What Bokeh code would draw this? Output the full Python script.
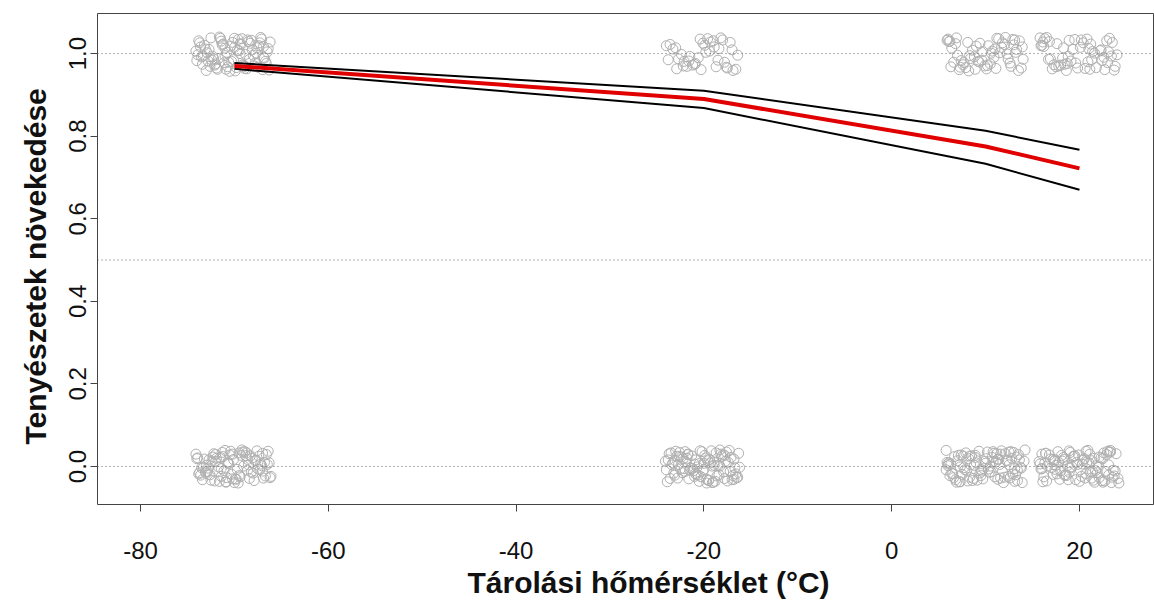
from bokeh.plotting import figure
from bokeh.models import ColumnDataSource, Range1d, FixedTicker, Span, Title
from bokeh.embed import file_html
from bokeh.resources import INLINE

# ---- data ----
x_ticks = [-80, -60, -40, -20, 0, 20]
x_tick_labels = {-80: "-80", -60: "-60", -40: "-40", -20: "-20", 0: "0", 20: "20"}
y_ticks = [0.0, 0.2, 0.4, 0.6, 0.8, 1.0]
y_tick_labels = {0.0: "0.0", 0.2: "0.2", 0.4: "0.4", 0.6: "0.6", 0.8: "0.8", 1.0: "1.0"}
ref_lines = [0.0, 0.5, 1.0]

temps = [-70, -20, 10, 20]
fit = [0.970, 0.890, 0.775, 0.722]
upper = [0.977, 0.910, 0.813, 0.767]
lower = [0.963, 0.868, 0.733, 0.670]

# jittered observations (x = temperature, y = growth 0/1)
c1_x = [-73.8,-72.1,-70.4,-68.9,-66.5,-71.7,-69.2,-67.8,-73.1,-70.9,-68.3,-66.9,-72.6,-69.7,-67.2,-74.0,-71.3,-69.9,-68.0,-66.2,-73.4,-71.0,-70.1,-68.6,-67.5,-72.9,-70.6,-69.4,-67.0,-73.6,-72.3,-71.5,-69.0,-68.1,-66.7,-73.0,-70.2,-68.8,-67.4,-72.0,-74.1,-71.9,-69.6,-68.4,-66.4,-73.3,-70.7,-69.3,-67.7,-72.5,-71.1,-70.0,-68.7,-66.8,-73.7,-72.8,-69.5,-67.9,-71.4,-70.5,
        -73.5,-71.2,-69.8,-67.1,-72.7,-70.3,-68.5,-66.3,-73.9,-71.6,-69.1,-67.6,-72.2,-70.8,-68.2,-66.6,-73.2,-71.8,-69.4,-67.3,-72.4,-70.0,-68.9,-66.9,-71.0]
c1_y = [1.031,0.972,1.018,0.964,1.004,0.988,1.036,0.977,1.011,0.962,1.025,0.991,0.969,1.008,1.039,0.983,1.021,0.958,0.996,1.028,0.974,1.013,0.985,1.033,0.967,1.002,0.979,1.024,0.961,1.016,0.993,1.037,0.971,1.009,0.981,0.959,1.027,0.998,1.019,0.975,1.006,0.965,1.034,0.986,1.012,0.994,0.968,1.022,1.001,1.038,0.978,1.015,0.963,0.989,1.026,0.982,1.007,0.970,1.030,0.957,
        0.992,1.023,0.966,1.035,1.010,0.981,1.029,0.960,0.997,1.040,0.973,1.014,0.987,1.003,1.032,0.976,1.020,0.962,1.000,1.026,0.984,1.037,0.969,1.017,0.995]
c2_x = [-72.4,-70.8,-69.1,-67.3,-73.9,-71.6,-68.5,-66.6,-70.3,-72.7,-69.8,-67.6,-73.5,-71.2,-68.2,-66.3,-70.0,-72.2,-69.5,-67.1,-73.2,-71.8,-68.9,-66.9,-70.6,-73.0,-69.3,-67.9,-72.0,-71.4,-68.7,-66.1,-74.0,-70.9,-69.0,-67.4,-72.9,-71.0,-68.4,-66.8,-73.6,-70.2,-69.7,-67.7,-72.5,-71.5,-68.0,-66.4,-73.3,-70.5,-69.4,-67.2,-72.1,-71.9,-68.6,-67.0,-73.8,-70.7,-69.9,-68.3,-72.8,-71.3,-66.7,-70.1,-73.1,
        -71.1,-68.8,-73.4,-66.5,-70.4,-72.6,-67.8,-69.6,-74.1,-71.7,-68.1,-66.2,-70.7,-73.7,-69.2,-67.5,-72.3,-70.9,-68.6,-71.4,-73.0,-69.5,-67.0,-72.0,-70.2]
c2_y = [0.012,-0.027,0.035,-0.008,0.021,-0.036,0.004,0.029,-0.019,0.016,-0.031,0.038,-0.003,0.024,-0.014,0.009,-0.039,0.031,-0.022,0.002,0.018,-0.011,0.036,-0.028,0.007,-0.017,0.027,-0.034,0.013,-0.005,0.033,-0.024,0.019,-0.038,0.001,0.025,-0.012,0.039,-0.029,0.010,-0.021,0.030,-0.007,0.015,-0.033,0.022,-0.016,0.037,-0.002,0.028,-0.025,0.006,-0.035,0.020,-0.009,0.032,-0.018,0.011,-0.030,0.026,-0.004,0.034,-0.023,0.017,-0.013,
        -0.010,0.026,-0.032,0.005,0.037,-0.020,0.014,-0.040,0.030,-0.001,0.021,-0.027,0.008,-0.015,0.040,-0.006,0.023,-0.037,0.017,-0.024,0.003,0.033,-0.011,0.029,-0.030]
c3_x = [-23.6,-22.1,-20.4,-18.7,-17.0,-21.5,-19.3,-16.6,-23.0,-20.9,-18.2,-22.7,-19.8,-17.5,-24.0,-21.2,-19.0,-16.9,-22.4,-20.1,-18.5,-23.3,-21.8,-19.6,-17.8,-20.6,-18.9,-22.9,-17.2,-21.0,-19.4,-23.8,-20.3,-18.0,-16.4,-22.2,-19.9,-21.6,-18.4,-17.6]
c3_y = [1.022,0.981,1.035,0.968,1.009,0.993,1.028,0.962,1.014,0.976,1.038,0.987,1.003,0.965,1.019,0.972,1.031,0.959,0.998,1.025,0.984,1.011,0.969,1.036,0.979,0.990,1.016,0.963,1.027,0.974,1.006,0.985,0.961,1.033,0.996,0.970,1.020,0.982,1.012,0.967]
c4_x = [-23.7,-22.0,-20.5,-18.8,-17.1,-21.4,-19.2,-16.5,-23.1,-20.8,-18.3,-22.6,-19.7,-17.4,-24.0,-21.3,-19.1,-16.8,-22.3,-20.2,-18.6,-23.4,-21.7,-19.5,-17.7,-20.7,-18.1,-22.8,-17.3,-21.1,-19.4,-23.9,-20.0,-18.4,-16.3,-22.5,-19.8,-21.6,-18.9,-17.6,-23.2,-21.9,-20.3,-18.0,-16.7,-22.2,-19.0,-21.0,-17.9,-23.5,-20.6,-19.6,-17.0,-22.9,-21.5,-18.5,-16.4,-23.0,-20.9,-19.3,-17.5,-22.4,-21.2,-18.2,-16.9,-23.8,-20.1,-19.9,-17.8,-22.7,
        -21.8,-19.5,-23.3,-16.6,-20.4,-22.1,-17.8,-19.7,-24.1,-21.0,-18.7,-16.2,-20.9,-23.6,-18.3,-17.2,-22.6,-20.5,-19.1,-21.7,-23.1,-18.9,-16.8,-22.0,-20.0]
c4_y = [0.031,-0.012,0.007,-0.036,0.022,-0.004,0.038,-0.027,0.015,-0.019,0.001,0.034,-0.031,0.010,-0.008,0.026,-0.039,0.018,-0.015,0.036,-0.023,0.004,0.029,-0.034,0.013,-0.001,0.024,-0.028,0.039,-0.010,0.017,-0.037,0.008,-0.020,0.032,-0.006,0.021,-0.030,0.003,0.035,-0.016,0.011,-0.025,0.028,-0.003,0.019,-0.038,0.006,-0.013,0.033,-0.021,0.014,-0.032,0.025,-0.009,0.002,-0.026,0.037,-0.017,0.009,-0.035,0.023,-0.005,0.030,-0.022,0.016,-0.011,0.027,-0.029,0.005,
        0.020,-0.033,0.009,-0.018,0.038,-0.005,0.027,-0.040,0.013,-0.024,0.033,-0.002,0.016,-0.029,0.040,-0.012,0.024,-0.036,0.001,0.030,-0.021,0.011,-0.031,0.036,-0.007]
c5_x = [6.3,8.1,9.6,11.4,13.2,7.2,10.3,12.6,5.9,8.8,11.0,13.8,6.8,9.2,12.1,7.6,10.7,13.5,6.1,8.4,11.7,9.9,12.9,7.0,10.1,13.0,6.6,8.6,11.2,14.0,7.9,9.4,12.3,6.4,10.5,13.6,8.2,11.5,7.4,9.0,12.7,6.0,10.9,13.3,8.9,11.8,7.7,9.7,12.4,6.9,10.2,13.9,8.3,11.1,6.2,9.3,12.0,7.3,10.6,13.1]
c5_y = [0.968,1.027,0.984,1.036,1.003,0.961,1.019,0.977,1.032,0.992,1.011,0.965,1.024,0.981,1.039,0.973,1.006,0.959,1.029,0.988,1.015,0.970,1.034,0.996,0.963,1.021,0.979,1.008,1.037,0.986,0.966,1.025,0.999,1.013,0.975,1.031,0.958,1.002,0.983,1.018,0.969,1.035,0.991,1.010,0.962,1.026,0.978,1.005,0.987,1.038,0.971,1.016,0.995,0.964,1.030,0.980,1.022,0.967,1.001,1.033]
c6_x = [6.2,7.9,9.5,11.3,13.1,7.1,10.4,12.5,5.8,8.7,11.1,13.7,6.7,9.1,12.2,7.5,10.8,13.4,6.0,8.3,11.6,9.8,12.8,6.9,10.0,13.0,6.5,8.5,11.3,14.1,7.8,9.3,12.4,6.3,10.6,13.5,8.1,11.4,7.3,8.9,12.6,5.9,10.9,13.2,8.8,11.9,7.6,9.6,12.3,6.8,10.2,13.8,8.2,11.0,6.1,9.4,12.1,7.2,10.5,13.3,8.0,11.7,6.6,9.9,12.9,7.4,10.3,13.6,8.6,11.5,
        7.0,9.7,12.7,5.8,10.7,13.9,8.4,11.2,6.4,9.0,12.0,14.2,7.7,10.1,13.4,8.9,11.8,6.0,9.5,12.5,7.3,10.8,13.1,8.3,11.6]
c6_y = [-0.022,0.033,-0.007,0.018,-0.036,0.027,-0.014,0.004,0.039,-0.029,0.011,-0.002,0.024,-0.033,0.015,-0.019,0.036,-0.010,0.002,-0.026,0.030,-0.005,0.020,-0.038,0.008,0.034,-0.017,0.026,-0.031,0.013,-0.008,0.037,-0.024,0.006,-0.013,0.029,-0.035,0.017,-0.001,0.022,-0.028,0.010,0.032,-0.020,0.003,-0.039,0.025,-0.011,0.014,-0.032,0.035,-0.004,0.019,-0.025,0.009,-0.016,0.031,-0.037,0.001,0.023,-0.009,0.038,-0.027,0.012,-0.018,0.028,-0.006,0.016,-0.034,0.005,
        0.014,-0.030,0.036,-0.008,0.022,-0.039,0.004,0.031,-0.017,0.009,-0.026,0.040,-0.003,0.019,-0.034,0.027,-0.012,0.006,-0.022,0.035,-0.037,0.012,-0.005,0.025,-0.028]
c7_x = [16.2,18.0,19.5,21.3,23.1,17.1,20.4,22.6,15.8,18.7,21.0,23.7,16.8,19.1,22.2,17.5,20.8,23.4,16.0,18.4,21.6,19.8,22.9,16.9,20.1,23.0,16.5,18.6,21.2,24.0,17.8,19.3,22.4,16.3,20.6,23.5,18.2,21.4,17.3,18.9,22.7,15.9,20.9,23.2,18.8,21.8,17.6,19.6,22.3,16.7,20.2,23.8,18.3,21.1,16.1]
c7_y = [1.017,0.972,1.034,0.985,1.004,0.963,1.026,0.991,1.038,0.976,1.012,0.960,1.029,0.982,1.007,0.968,1.035,0.994,1.020,0.974,1.001,0.965,1.031,0.987,1.015,0.978,1.039,0.959,1.023,0.997,0.970,1.010,0.983,1.036,0.964,1.027,0.989,1.005,0.973,1.032,0.961,1.019,0.980,1.037,0.993,0.966,1.024,0.977,1.009,0.986,1.033,0.969,1.014,0.962,1.028]
c8_x = [16.3,17.9,19.4,21.2,23.0,17.0,20.5,22.5,15.7,18.6,21.1,23.6,16.6,19.0,22.1,17.4,20.7,23.3,15.9,18.3,21.5,19.7,22.8,16.8,20.0,23.1,16.4,18.5,21.3,24.1,17.7,19.2,22.3,16.2,20.3,23.4,18.1,21.7,17.2,18.8,22.6,16.0,20.8,23.7,18.9,21.9,17.5,19.5,22.4,16.9,20.1,23.9,18.4,21.0,16.1,19.3,22.0,17.3,20.6,23.2,18.0,21.6,16.5,19.8,22.9,17.6,20.4,23.5,18.7,21.4,
        17.2,19.9,22.7,15.8,20.9,23.8,18.4,21.3,16.4,19.0,22.1,24.2,17.8,20.2,23.3,18.9,21.8,16.0,19.6,22.5,17.4,20.7,23.1,18.2,21.6]
c8_y = [0.008,-0.031,0.025,-0.014,0.037,-0.003,0.019,-0.038,0.012,-0.022,0.030,-0.009,0.001,0.034,-0.027,0.016,-0.017,0.039,-0.006,0.022,-0.033,0.010,-0.012,0.028,-0.036,0.004,0.032,-0.020,0.014,-0.029,0.036,-0.001,0.021,-0.025,0.006,-0.039,0.027,-0.010,0.017,-0.032,0.033,-0.005,0.011,-0.023,0.038,-0.015,0.003,0.026,-0.034,0.018,-0.008,0.031,-0.021,0.009,-0.037,0.024,-0.002,0.013,-0.028,0.035,-0.011,0.020,-0.035,0.005,0.029,-0.018,0.015,-0.026,0.002,-0.013,
        -0.019,0.028,-0.035,0.006,0.039,-0.011,0.017,-0.028,0.032,-0.004,0.023,-0.040,0.010,-0.024,0.035,-0.014,0.002,0.030,-0.032,0.019,-0.007,0.037,-0.021,0.013,-0.038]

clusters = [(c1_x, c1_y), (c2_x, c2_y), (c3_x, c3_y), (c4_x, c4_y),
            (c5_x, c5_y), (c6_x, c6_y), (c7_x, c7_y), (c8_x, c8_y)]

x_title = "Tárolási hőmérséklet (°C)"
y_title = "Tenyészetek növekedése"

FONT = "Liberation Sans"

# ---- figure ----
p = figure(width=1154, height=603,
           x_range=Range1d(-84.58, 27.99), y_range=Range1d(-0.092, 1.097),
           output_backend="svg", toolbar_location=None,
           min_border_left=97, min_border_right=0, min_border_top=13, min_border_bottom=99)
p.grid.visible = False
p.outline_line_color = "#444444"
p.outline_line_width = 1
p.background_fill_color = "white"
p.border_fill_color = "white"

for v in ref_lines:
    p.add_layout(Span(location=v, dimension="width", line_color="#666666",
                      line_width=1, line_dash="1 3"))

xs, ys = [], []
for cx, cy in clusters:
    n = min(len(cx), len(cy))
    xs += cx[:n]
    ys += cy[:n]
pts = ColumnDataSource(data=dict(x=xs, y=ys))
p.scatter("x", "y", source=pts, marker="circle", size=10, fill_color=None,
          line_color="#b0b0b0", line_width=1)

p.line(temps, upper, line_color="black", line_width=2)
p.line(temps, lower, line_color="black", line_width=2)
p.line(temps, fit, line_color="#e00000", line_width=4)

for ax in (p.xaxis[0], p.yaxis[0]):
    ax.axis_line_color = None
    ax.major_tick_line_color = "#444444"
    ax.major_tick_out = 7
    ax.major_tick_in = 0
    ax.minor_tick_line_color = None
    ax.major_label_text_font = FONT
    ax.major_label_text_font_size = "24px"
    ax.major_label_text_color = "#111111"

p.xaxis.ticker = FixedTicker(ticks=x_ticks)
p.xaxis.major_label_overrides = x_tick_labels
p.yaxis.ticker = FixedTicker(ticks=y_ticks)
p.yaxis.major_label_overrides = y_tick_labels
p.yaxis.major_label_orientation = "vertical"
p.xaxis.major_label_standoff = 30
p.yaxis.major_label_standoff = 4

tx = Title(text=x_title, align="left", offset=370, text_font=FONT,
           text_font_size="30px", text_font_style="bold", text_color="#111111")
ty = Title(text=y_title, align="left", offset=60, text_font=FONT,
           text_font_size="30px", text_font_style="bold", text_color="#111111")
try:
    tx.standoff = 5
    ty.standoff = 29
except AttributeError:
    pass
p.add_layout(tx, "below")
p.add_layout(ty, "left")

open("out.html", "w").write(file_html(p, INLINE))
